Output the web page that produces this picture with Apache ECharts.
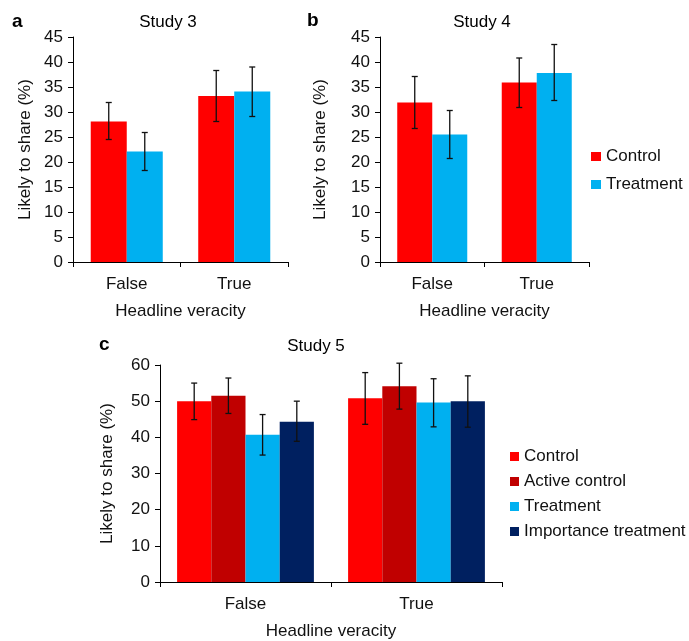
<!DOCTYPE html>
<html>
<head>
<meta charset="utf-8">
<script src="https://cdn.jsdelivr.net/npm/echarts@6/dist/echarts.min.js"></script>
<style>
  html, body { margin: 0; padding: 0; background: #fff; }
  #chart { width: 689px; height: 641px; }
</style>
</head>
<body>
<div id="chart"></div>
<script>
const categories = ['False', 'True'];

// Study 3
const s3Control = [28.1, 33.2];
const s3ControlLow = [24.5, 28.1];
const s3ControlHigh = [31.9, 38.3];
const s3Treatment = [22.1, 34.1];
const s3TreatmentLow = [18.3, 29.1];
const s3TreatmentHigh = [25.9, 39.0];

// Study 4
const s4Control = [31.9, 35.9];
const s4ControlLow = [26.7, 30.9];
const s4ControlHigh = [37.1, 40.8];
const s4Treatment = [25.5, 37.8];
const s4TreatmentLow = [20.7, 32.3];
const s4TreatmentHigh = [30.3, 43.5];

// Study 5
const s5Control = [50.0, 50.8];
const s5ControlLow = [44.9, 43.6];
const s5ControlHigh = [55.0, 57.9];
const s5Active = [51.5, 54.1];
const s5ActiveLow = [46.6, 47.8];
const s5ActiveHigh = [56.4, 60.5];
const s5Treatment = [40.7, 49.6];
const s5TreatmentLow = [35.1, 42.9];
const s5TreatmentHigh = [46.3, 56.2];
const s5Importance = [44.3, 50.0];
const s5ImportanceLow = [38.9, 42.8];
const s5ImportanceHigh = [50.0, 57.0];

const legendNamesB = ['Control', 'Treatment'];
const legendNamesC = ['Control', 'Active control', 'Treatment', 'Importance treatment'];

const RED = '#FF0000', DARKRED = '#C00000', BLUE = '#00B0F0', NAVY = '#002060';
const FONT = "'Liberation Sans', Arial, Helvetica, sans-serif";
const TXT = '#111';

function makeX(gridIndex, gap) {
  return {
    type: 'category', gridIndex: gridIndex, data: categories,
    name: 'Headline veracity', nameLocation: 'middle', nameGap: gap,
    nameTextStyle: { fontFamily: FONT, fontSize: 17, color: TXT },
    axisLine: { show: true, lineStyle: { color: '#000', width: 1 } },
    axisTick: { show: true, length: 5, lineStyle: { color: '#000' } },
    axisLabel: { fontFamily: FONT, fontSize: 17, color: TXT, margin: 14 },
    splitLine: { show: false }
  };
}
function makeY(gridIndex, max, interval, gap) {
  return {
    type: 'value', gridIndex: gridIndex, min: 0, max: max, interval: interval,
    name: 'Likely to share (%)', nameLocation: 'middle', nameGap: gap,
    nameTextStyle: { fontFamily: FONT, fontSize: 17, color: TXT },
    axisLine: { show: true, lineStyle: { color: '#000', width: 1 } },
    axisTick: { show: true, length: 5, lineStyle: { color: '#000' } },
    axisLabel: { fontFamily: FONT, fontSize: 17, color: TXT, margin: 10 },
    splitLine: { show: false }
  };
}
function bar(name, data, color, idx, gapPct) {
  return {
    type: 'bar', name: name, data: data, xAxisIndex: idx, yAxisIndex: idx,
    itemStyle: { color: color }, barGap: '0%', barCategoryGap: gapPct + '%',
    z: 2
  };
}
function errors(idx, i, n, gapPct, low, high) {
  const g = gapPct / 100;
  const data = categories.map((c, k) => [k, low[k], high[k]]);
  return {
    type: 'custom', xAxisIndex: idx, yAxisIndex: idx, z: 5,
    data: data,
    encode: { x: 0, y: [1, 2] },
    renderItem: function (params, api) {
      const cat = api.value(0);
      const lo = api.coord([cat, api.value(1)]);
      const hi = api.coord([cat, api.value(2)]);
      const W = api.size([1, 0])[0];
      const bw = W * (1 - g) / n;
      const x = lo[0] - W * (1 - g) / 2 + bw * (i + 0.5);
      const cap = 3;
      const style = { stroke: '#111', lineWidth: 1.3 };
      return {
        type: 'group',
        children: [
          { type: 'line', shape: { x1: x, y1: lo[1], x2: x, y2: hi[1] }, style: style },
          { type: 'line', shape: { x1: x - cap, y1: lo[1], x2: x + cap, y2: lo[1] }, style: style },
          { type: 'line', shape: { x1: x - cap, y1: hi[1], x2: x + cap, y2: hi[1] }, style: style }
        ]
      };
    }
  };
}

function txt(x, y, text, bold, size) {
  return {
    type: 'text', x: x, y: y,
    style: {
      text: text, fill: '#000', textAlign: bold ? 'left' : 'center', textVerticalAlign: 'middle',
      font: (bold ? 'bold ' : '') + size + 'px ' + FONT
    }
  };
}

const chart = echarts.init(document.getElementById('chart'), null, { renderer: 'canvas' });
const option = {
  animation: false,
  backgroundColor: '#fff',
  grid: [
    { left: 73, top: 37, width: 215, height: 225 },
    { left: 380, top: 37, width: 209, height: 225 },
    { left: 160, top: 365, width: 342, height: 221 }
  ],
  xAxis: [makeX(0, 41), makeX(1, 41), makeX(2, 41)],
  yAxis: [makeY(0, 45, 5, 39), makeY(1, 45, 5, 51), makeY(2, 60, 10, 44)],
  legend: [
    {
      data: legendNamesB, orient: 'vertical', left: 586, top: 143,
      itemWidth: 10, itemHeight: 9, itemGap: 11, icon: 'rect',
      textStyle: { fontFamily: FONT, fontSize: 17, color: TXT }, selectedMode: false
    },
    {
      data: legendNamesC, orient: 'vertical', left: 505, top: 443,
      itemWidth: 9, itemHeight: 9, itemGap: 8, icon: 'rect',
      textStyle: { fontFamily: FONT, fontSize: 17, color: TXT }, selectedMode: false
    }
  ],
  graphic: [
    txt(12, 22, 'a', true, 19),
    txt(307, 21, 'b', true, 19),
    txt(99, 345, 'c', true, 19),
    txt(168, 22, 'Study 3', false, 17),
    txt(482, 22, 'Study 4', false, 17),
    txt(316, 346, 'Study 5', false, 17)
  ],
  series: [
    bar('Control', s3Control, RED, 0, 33),
    bar('Treatment', s3Treatment, BLUE, 0, 33),
    errors(0, 0, 2, 33, s3ControlLow, s3ControlHigh),
    errors(0, 1, 2, 33, s3TreatmentLow, s3TreatmentHigh),

    bar('Control', s4Control, RED, 1, 33),
    bar('Treatment', s4Treatment, BLUE, 1, 33),
    errors(1, 0, 2, 33, s4ControlLow, s4ControlHigh),
    errors(1, 1, 2, 33, s4TreatmentLow, s4TreatmentHigh),

    bar('Control', s5Control, RED, 2, 20),
    bar('Active control', s5Active, DARKRED, 2, 20),
    bar('Treatment', s5Treatment, BLUE, 2, 20),
    bar('Importance treatment', s5Importance, NAVY, 2, 20),
    errors(2, 0, 4, 20, s5ControlLow, s5ControlHigh),
    errors(2, 1, 4, 20, s5ActiveLow, s5ActiveHigh),
    errors(2, 2, 4, 20, s5TreatmentLow, s5TreatmentHigh),
    errors(2, 3, 4, 20, s5ImportanceLow, s5ImportanceHigh)
  ]
};
chart.setOption(option);
</script>
</body>
</html>
